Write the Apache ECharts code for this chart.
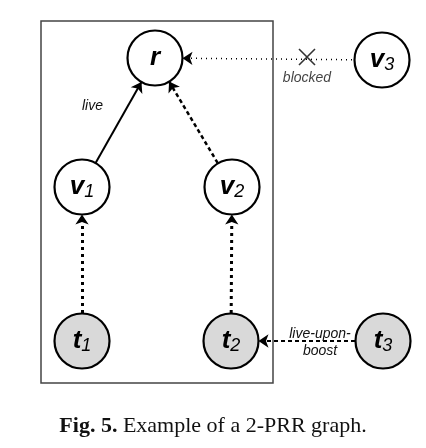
<!DOCTYPE html>
<html><head><meta charset="utf-8">
<script src="https://cdn.jsdelivr.net/npm/echarts@6/dist/echarts.min.js"></script>
<style>html,body{margin:0;padding:0;background:#fff}#echartsMain{width:426px;height:448px}</style>
</head><body>
<div id="echartsMain"></div>
<script>
// node layout (pixel coords)
var nodeNames = ['r', 'v3', 'v1', 'v2', 't1', 't2', 't3'];
var nodeLabels = ['{m|r}', '{m|v}{s|3}', '{m|v}{s|1}', '{m|v}{s|2}', '{m|t}{s|1}', '{m|t}{s|2}', '{m|t}{s|3}'];
var nodeX = [155, 382, 82, 232, 82, 231, 383];
var nodeY = [58, 60, 187, 187, 341, 341, 341];
var nodeFill = ['#fff', '#fff', '#fff', '#fff', '#d9d9d9', '#d9d9d9', '#d9d9d9'];

var linkFrom = ['v3', 'v1', 'v2', 't1', 't2', 't3'];
var linkTo = ['r', 'r', 'r', 'v1', 'v2', 't2'];
var linkType = [[1, 4], 'solid', [4, 3], [3, 4], [3, 4], [4, 3]];
var linkWidth = [1.5, 2, 2.5, 3, 3, 2];

var myChart = echarts.init(document.getElementById('echartsMain'));

var nodes = nodeNames.map(function (n, i) {
	return {
		name: n, value: [nodeX[i], nodeY[i]],
		itemStyle: {color: nodeFill[i]},
		label: {formatter: nodeLabels[i]}
	};
});
var links = linkFrom.map(function (f, i) {
	return {
		source: f, target: linkTo[i],
		lineStyle: {type: linkType[i], width: linkWidth[i]}
	};
});

var option = {
	animation: false,
	grid: {left: 0, right: 0, top: 0, bottom: 0},
	xAxis: {type: 'value', min: 0, max: 426, show: false},
	yAxis: {type: 'value', min: 0, max: 448, inverse: true, show: false},
	title: {
		text: '{b|Fig. 5.} Example of a 2-PRR graph.',
		left: 'center', top: 410,
		textStyle: {
			fontFamily: 'Liberation Serif', fontSize: 22, fontWeight: 'normal', color: '#111',
			rich: {b: {fontFamily: 'Liberation Serif', fontSize: 22, fontWeight: 'bold', color: '#111'}}
		}
	},
	graphic: [
		{type: 'rect', shape: {x: 41, y: 21, width: 232, height: 362}, style: {fill: 'none', stroke: '#444', lineWidth: 1.5}, z: 0},
		{type: 'text', x: 82, y: 99, style: {text: 'live', font: 'italic 14px "Liberation Sans"', fill: '#111'}},
		{type: 'text', x: 320, y: 343, z: 10, style: {
			text: 'live-upon-\nboost', font: 'italic 14px "Liberation Sans"', fill: '#111',
			align: 'center', verticalAlign: 'middle', lineHeight: 17
		}}
	],
	series: [{
		type: 'graph',
		layout: 'none',
		coordinateSystem: 'cartesian2d',
		symbolSize: 55,
		itemStyle: {borderColor: '#000', borderWidth: 2.2},
		label: {
			show: true, position: 'inside',
			rich: {
				m: {fontFamily: 'Liberation Sans', fontStyle: 'italic', fontSize: 26, color: '#000', fontWeight: 'bold'},
				s: {fontFamily: 'Liberation Sans', fontStyle: 'italic', fontSize: 18, color: '#000', padding: [10, 0, 0, 0]}
			}
		},
		edgeSymbol: ['none', 'arrow'],
		edgeSymbolSize: [0, 10],
		lineStyle: {color: '#000', opacity: 1, curveness: 0},
		data: nodes,
		links: links,
		z: 2
	}, {
		type: 'scatter',
		data: [[307, 57]],
		symbol: 'path://M0,0L10,10M10,0L0,10',
		symbolSize: 16,
		itemStyle: {color: 'none', borderColor: '#000', borderWidth: 1.6},
		label: {
			show: true, position: 'bottom', distance: 4, formatter: 'blocked',
			fontFamily: 'Liberation Sans', fontStyle: 'italic', fontSize: 14, color: '#111'
		},
		z: 3
	}]
};

myChart.setOption(option);
</script>
</body></html>
